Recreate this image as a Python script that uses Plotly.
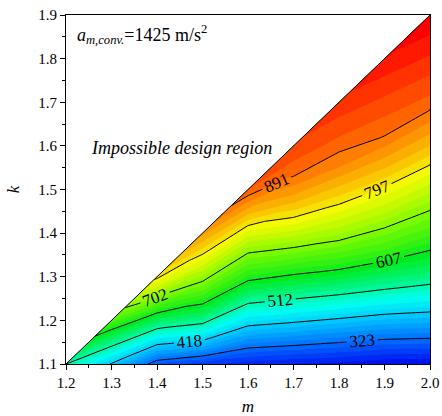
import plotly.graph_objects as go

# design parameter m (columns) and relative position b (in %) between k = 1.1 (b = 0)
# and the design limit k = m - 0.1 (b = 100)
m_vals = [1.2, 1.3, 1.4, 1.5, 1.6, 1.7, 1.8, 1.9, 2.0]
b_vals = [0.0, 12.5, 25.0, 37.5, 50.0, 62.5, 75.0, 87.5, 100.0]
k_low = 1.1
k_high = 1.9
k_gap = 0.1   # k = m - 0.1 is the limit of the possible design region

# acceleration values (rows: b, columns: m)
z_rows = [
    [513.0, 414.3, 300.5, 272.8, 254.2, 247.0, 240.0, 230.7, 228.3],
    [513.0, 444.5, 366.6, 375.7, 347.9, 359.0, 366.3, 373.4, 388.6],
    [513.0, 474.7, 432.4, 473.0, 441.0, 470.6, 498.0, 519.1, 538.5],
    [513.0, 504.9, 496.9, 557.7, 533.0, 579.9, 620.9, 646.5, 651.7],
    [513.0, 535.6, 562.4, 631.8, 623.2, 676.8, 725.3, 744.4, 748.1],
    [513.0, 566.4, 628.2, 698.8, 695.2, 769.3, 806.3, 826.5, 834.3],
    [513.0, 597.3, 694.0, 758.1, 771.4, 841.9, 871.7, 892.9, 903.8],
    [513.0, 628.5, 755.7, 812.9, 844.0, 897.9, 912.6, 928.8, 944.9],
    [513.0, 660.0, 805.0, 860.0, 910.0, 926.0, 943.0, 964.6, 986.0],
]

# off-axis guard column (m = 2.1, outside the shown range) so that the
# contour lines do not end exactly on the visible right border
m_guard = 2.1
z_guard = [130.0, 180.0, 228.3, 388.6, 538.5, 651.7, 748.1, 834.3, 903.8]

z_min = 228.26
z_max = 986.02
line_step = 94.72
fill_step = 18.944

rainbow = [
    [0.0, "rgb(0,0,235)"],
    [0.125, "rgb(0,100,255)"],
    [0.25, "rgb(0,200,255)"],
    [0.33, "rgb(0,255,240)"],
    [0.5, "rgb(0,235,30)"],
    [0.625, "rgb(120,250,0)"],
    [0.75, "rgb(245,250,0)"],
    [0.875, "rgb(255,125,0)"],
    [1.0, "rgb(255,0,0)"],
]

serif = "Liberation Serif"

a_all = m_vals + [m_guard]
z_all = [row + [g] for row, g in zip(z_rows, z_guard)]

# carpet node positions in the (m, k) plane
x2d = [[m for m in a_all] for b in b_vals]
y2d = [[k_low + b / 100.0 * (m - k_gap - k_low) for m in a_all] for b in b_vals]

hidden_axis = dict(showgrid=False, showline=False, showticklabels="none",
                   startline=False, endline=False, minorgridcount=0,
                   smoothing=0, color="rgba(0,0,0,0)")

fig = go.Figure()

fig.add_trace(go.Carpet(
    carpet="tri", a=a_all, b=b_vals, x=x2d, y=y2d,
    aaxis=hidden_axis, baxis=hidden_axis,
))

fig.add_trace(go.Contourcarpet(
    carpet="tri", a=a_all, b=b_vals, z=z_all,
    colorscale=rainbow, showscale=False,
    contours=dict(start=z_min, end=z_max - fill_step, size=fill_step,
                  coloring="fill", showlines=False),
    line=dict(width=0, smoothing=0),
))

fig.add_trace(go.Contourcarpet(
    carpet="tri", a=a_all, b=b_vals, z=z_all,
    showscale=False,
    contours=dict(start=z_min + line_step, end=z_max - line_step + 1,
                  size=line_step, coloring="none", showlabels=True,
                  labelformat=".0f",
                  labelfont=dict(family=serif, size=17, color="black")),
    line=dict(color="black", width=1, smoothing=0),
))

# design limit k = m - 0.1 (impossible region above it)
fig.add_trace(go.Scatter(
    x=[m_vals[0], m_vals[-1]],
    y=[m_vals[0] - k_gap, m_vals[-1] - k_gap],
    mode="lines", line=dict(color="black", width=1),
    hoverinfo="skip", showlegend=False,
))

axis_common = dict(
    showline=True, linecolor="black", linewidth=1, mirror=True,
    ticks="outside", ticklen=5, tickcolor="black", tickwidth=1,
    showgrid=False, zeroline=False, dtick=0.1, tickformat=".1f",
    tickfont=dict(family=serif, size=15, color="black"),
    minor=dict(ticks="outside", ticklen=3, tickcolor="black", dtick=0.05, showgrid=False),
    automargin=False,
)

fig.update_layout(
    width=442, height=416,
    margin=dict(l=66, r=12, t=15, b=52),
    paper_bgcolor="white", plot_bgcolor="white",
    showlegend=False,
    xaxis=dict(range=[m_vals[0], m_vals[-1]], tick0=1.2,
               title=dict(text="<i>m</i>", font=dict(family=serif, size=17, color="black"), standoff=16),
               **axis_common),
    yaxis=dict(range=[k_low, k_high], tick0=1.1,
               title=dict(text="<i>k</i>", font=dict(family=serif, size=17, color="black"), standoff=14),
               **axis_common),
    annotations=[
        dict(text="<i>a</i><sub><i>m,conv.</i></sub>=1425 m/s<sup>2</sup>",
             xref="paper", yref="paper", x=0.025, y=0.945,
             xanchor="left", yanchor="middle", showarrow=False,
             font=dict(family=serif, size=18, color="black")),
        dict(text="<i>Impossible design region</i>",
             xref="paper", yref="paper", x=0.316, y=0.619,
             xanchor="center", yanchor="middle", showarrow=False,
             font=dict(family=serif, size=18, color="black")),
    ],
)

fig.write_html("out.html")
